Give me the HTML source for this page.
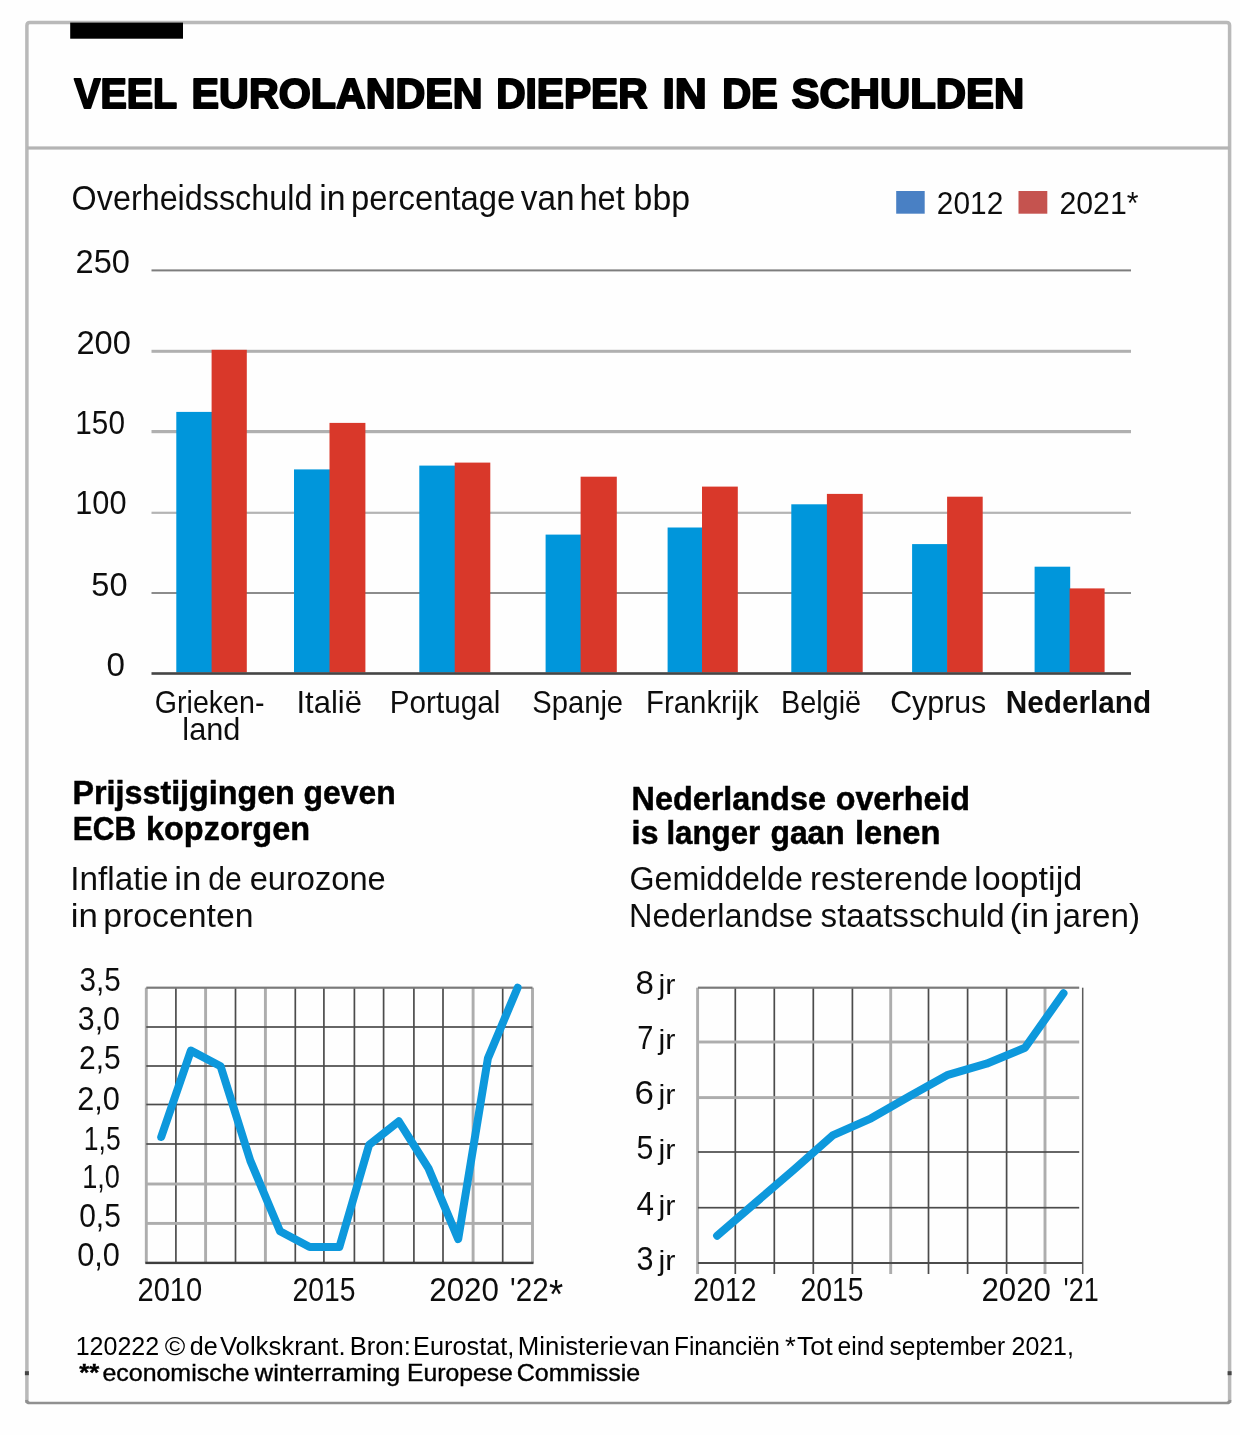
<!DOCTYPE html>
<html lang="nl">
<head>
<meta charset="utf-8">
<title>Veel eurolanden dieper in de schulden</title>
<style>
html,body{margin:0;padding:0;background:#fefefe;}
body{width:1240px;height:1435px;overflow:hidden;}
svg{display:block;}
svg text{font-family:"Liberation Sans",sans-serif;}
</style>
</head>
<body>
<svg width="1240" height="1435" viewBox="0 0 1240 1435">
<defs><filter id="soft" x="0" y="0" width="1240" height="1435" filterUnits="userSpaceOnUse"><feGaussianBlur stdDeviation="0.55"/></filter></defs>
<g filter="url(#soft)">
<rect x="0" y="0" width="1240" height="1435" fill="#fefefe"/>
<path d="M26.9,1403.0 L26.9,25.6 Q26.9,22.6 29.9,22.6 L1226.6,22.6 Q1229.6,22.6 1229.6,25.6 L1229.6,1403.0" fill="none" stroke="#b9b9b9" stroke-width="3.5"/>
<path d="M26.299999999999997,1400.0 Q26.599999999999998,1403.0 29.9,1403.0 L1226.6,1403.0 Q1229.8999999999999,1403.0 1230.1999999999998,1400.0" fill="none" stroke="#909090" stroke-width="2.7"/>
<rect x="26.9" y="146.40" width="1202.7" height="3.2" fill="#b4b4b4"/>
<rect x="24.9" y="1371.2" width="4" height="4" fill="#444"/>
<rect x="1227.6" y="1371.2" width="4" height="4" fill="#444"/>
<rect x="70.2" y="22.6" width="112.8" height="16.1" fill="#000"/>
<text y="107.7" font-size="42.0" font-weight="bold" fill="#000" stroke="#000" stroke-width="2.0" stroke-linejoin="round">
<tspan x="74.20" textLength="102.27" lengthAdjust="spacingAndGlyphs">VEEL</tspan>
<tspan x="191.62" textLength="290.89" lengthAdjust="spacingAndGlyphs">EUROLANDEN</tspan>
<tspan x="496.16" textLength="151.42" lengthAdjust="spacingAndGlyphs">DIEPER</tspan>
<tspan x="662.43" textLength="44.29" lengthAdjust="spacingAndGlyphs">IN</tspan>
<tspan x="722.20" textLength="55.66" lengthAdjust="spacingAndGlyphs">DE</tspan>
<tspan x="791.55" textLength="232.72" lengthAdjust="spacingAndGlyphs">SCHULDEN</tspan>
</text>
<text y="209.5" font-size="34.3" font-weight="normal" fill="#111">
<tspan x="71.58" textLength="240.83" lengthAdjust="spacingAndGlyphs">Overheidsschuld</tspan>
<tspan x="319.29" textLength="26.31" lengthAdjust="spacingAndGlyphs">in</tspan>
<tspan x="351.05" textLength="164.28" lengthAdjust="spacingAndGlyphs">percentage</tspan>
<tspan x="520.80" textLength="53.88" lengthAdjust="spacingAndGlyphs">van</tspan>
<tspan x="579.46" textLength="45.43" lengthAdjust="spacingAndGlyphs">het</tspan>
<tspan x="633.58" textLength="56.49" lengthAdjust="spacingAndGlyphs">bbp</tspan>
</text>
<rect x="896.2" y="191" width="28.5" height="22.7" fill="#4a80c4"/>
<rect x="1018.5" y="191" width="28.8" height="22.7" fill="#c5524f"/>
<text x="936.87" y="213.8" font-size="31.3" font-weight="normal" fill="#111" textLength="66.39" lengthAdjust="spacingAndGlyphs">2012</text>
<text x="1059.45" y="213.8" font-size="31.3" font-weight="normal" fill="#111" textLength="79.07" lengthAdjust="spacingAndGlyphs">2021*</text>
<rect x="151.5" y="269.40" width="979.5" height="2.0" fill="#7d7d7d"/>
<rect x="151.5" y="349.80" width="979.5" height="3.0" fill="#b0b0b0"/>
<rect x="151.5" y="430.00" width="979.5" height="3.2" fill="#b0b0b0"/>
<rect x="151.5" y="511.70" width="979.5" height="2.2" fill="#b4b4b4"/>
<rect x="151.5" y="592.00" width="979.5" height="2.0" fill="#8c8c8c"/>
<text x="75.57" y="273.1" font-size="32.5" font-weight="normal" fill="#111" textLength="54.44" lengthAdjust="spacingAndGlyphs">250</text>
<text x="76.47" y="353.6" font-size="32.5" font-weight="normal" fill="#111" textLength="54.44" lengthAdjust="spacingAndGlyphs">200</text>
<text x="75.34" y="433.7" font-size="32.5" font-weight="normal" fill="#111" textLength="49.60" lengthAdjust="spacingAndGlyphs">150</text>
<text x="75.28" y="514.1" font-size="32.5" font-weight="normal" fill="#111" textLength="51.29" lengthAdjust="spacingAndGlyphs">100</text>
<text x="91.38" y="596.3" font-size="32.5" font-weight="normal" fill="#111" textLength="36.23" lengthAdjust="spacingAndGlyphs">50</text>
<text x="106.56" y="675.9" font-size="32.5" font-weight="normal" fill="#111" textLength="18.46" lengthAdjust="spacingAndGlyphs">0</text>
<rect x="176.3" y="411.9" width="35.9" height="260.6" fill="#0096db"/>
<rect x="211.6" y="349.8" width="35.2" height="322.7" fill="#d9382b"/>
<rect x="294.0" y="469.4" width="36.1" height="203.1" fill="#0096db"/>
<rect x="329.5" y="422.9" width="35.9" height="249.6" fill="#d9382b"/>
<rect x="419.3" y="465.6" width="36.0" height="206.9" fill="#0096db"/>
<rect x="454.7" y="462.6" width="35.6" height="209.9" fill="#d9382b"/>
<rect x="545.6" y="534.6" width="35.6" height="137.9" fill="#0096db"/>
<rect x="580.6" y="476.7" width="36.2" height="195.8" fill="#d9382b"/>
<rect x="667.6" y="527.5" width="35.0" height="145.0" fill="#0096db"/>
<rect x="702.0" y="486.6" width="35.8" height="185.9" fill="#d9382b"/>
<rect x="791.3" y="504.3" width="36.2" height="168.2" fill="#0096db"/>
<rect x="826.9" y="493.9" width="35.8" height="178.6" fill="#d9382b"/>
<rect x="912.1" y="544.1" width="35.6" height="128.4" fill="#0096db"/>
<rect x="947.1" y="496.7" width="35.6" height="175.8" fill="#d9382b"/>
<rect x="1034.6" y="566.7" width="35.6" height="105.8" fill="#0096db"/>
<rect x="1069.6" y="588.4" width="35.0" height="84.1" fill="#d9382b"/>
<rect x="151.5" y="672.20" width="979.5" height="2.6" fill="#444"/>
<text x="154.84" y="713.4" font-size="31.5" font-weight="normal" fill="#111" textLength="109.60" lengthAdjust="spacingAndGlyphs">Grieken-</text>
<text x="182.35" y="739.8" font-size="31.5" font-weight="normal" fill="#111" textLength="58.12" lengthAdjust="spacingAndGlyphs">land</text>
<text x="296.47" y="713.4" font-size="31.5" font-weight="normal" fill="#111" textLength="65.40" lengthAdjust="spacingAndGlyphs">Italië</text>
<text x="389.85" y="713.4" font-size="31.5" font-weight="normal" fill="#111" textLength="110.43" lengthAdjust="spacingAndGlyphs">Portugal</text>
<text x="532.33" y="713.4" font-size="31.5" font-weight="normal" fill="#111" textLength="90.76" lengthAdjust="spacingAndGlyphs">Spanje</text>
<text x="645.97" y="713.4" font-size="31.5" font-weight="normal" fill="#111" textLength="112.72" lengthAdjust="spacingAndGlyphs">Frankrijk</text>
<text x="781.01" y="713.4" font-size="31.5" font-weight="normal" fill="#111" textLength="80.06" lengthAdjust="spacingAndGlyphs">België</text>
<text x="890.15" y="713.4" font-size="31.5" font-weight="normal" fill="#111" textLength="96.13" lengthAdjust="spacingAndGlyphs">Cyprus</text>
<text x="1005.71" y="712.9" font-size="31.5" font-weight="bold" fill="#111" textLength="145.47" lengthAdjust="spacingAndGlyphs">Nederland</text>
<text y="804.1" font-size="34" font-weight="bold" fill="#000" stroke="#000" stroke-width="0.5">
<tspan x="72.53" textLength="222.28" lengthAdjust="spacingAndGlyphs">Prijsstijgingen</tspan>
<tspan x="303.55" textLength="92.03" lengthAdjust="spacingAndGlyphs">geven</tspan>
</text>
<text y="840.4" font-size="34" font-weight="bold" fill="#000" stroke="#000" stroke-width="0.5">
<tspan x="72.67" textLength="63.52" lengthAdjust="spacingAndGlyphs">ECB</tspan>
<tspan x="145.92" textLength="164.20" lengthAdjust="spacingAndGlyphs">kopzorgen</tspan>
</text>
<text y="889.7" font-size="34" font-weight="normal" fill="#111">
<tspan x="70.30" textLength="98.15" lengthAdjust="spacingAndGlyphs">Inflatie</tspan>
<tspan x="174.32" textLength="27.14" lengthAdjust="spacingAndGlyphs">in</tspan>
<tspan x="208.26" textLength="33.35" lengthAdjust="spacingAndGlyphs">de</tspan>
<tspan x="249.68" textLength="136.04" lengthAdjust="spacingAndGlyphs">eurozone</tspan>
</text>
<text y="926.7" font-size="34" font-weight="normal" fill="#111">
<tspan x="70.72" textLength="27.14" lengthAdjust="spacingAndGlyphs">in</tspan>
<tspan x="103.29" textLength="150.31" lengthAdjust="spacingAndGlyphs">procenten</tspan>
</text>
<text y="809.7" font-size="33" font-weight="bold" fill="#000" stroke="#000" stroke-width="0.5">
<tspan x="631.53" textLength="194.43" lengthAdjust="spacingAndGlyphs">Nederlandse</tspan>
<tspan x="835.74" textLength="134.27" lengthAdjust="spacingAndGlyphs">overheid</tspan>
</text>
<text y="844.3" font-size="33" font-weight="bold" fill="#000" stroke="#000" stroke-width="0.5">
<tspan x="631.52" textLength="27.04" lengthAdjust="spacingAndGlyphs">is</tspan>
<tspan x="666.40" textLength="93.80" lengthAdjust="spacingAndGlyphs">langer</tspan>
<tspan x="770.46" textLength="74.23" lengthAdjust="spacingAndGlyphs">gaan</tspan>
<tspan x="855.00" textLength="85.53" lengthAdjust="spacingAndGlyphs">lenen</tspan>
</text>
<text y="890.1" font-size="34" font-weight="normal" fill="#111">
<tspan x="629.49" textLength="173.41" lengthAdjust="spacingAndGlyphs">Gemiddelde</tspan>
<tspan x="810.03" textLength="158.01" lengthAdjust="spacingAndGlyphs">resterende</tspan>
<tspan x="974.07" textLength="108.15" lengthAdjust="spacingAndGlyphs">looptijd</tspan>
</text>
<text y="926.6" font-size="34" font-weight="normal" fill="#111">
<tspan x="628.96" textLength="184.05" lengthAdjust="spacingAndGlyphs">Nederlandse</tspan>
<tspan x="820.58" textLength="184.08" lengthAdjust="spacingAndGlyphs">staatsschuld</tspan>
<tspan x="1009.42" textLength="39.90" lengthAdjust="spacingAndGlyphs">(in</tspan>
<tspan x="1055.04" textLength="84.98" lengthAdjust="spacingAndGlyphs">jaren)</tspan>
</text>
<rect x="144.85" y="987.7" width="2.9" height="275.0" fill="#adadad"/>
<rect x="175.05" y="987.7" width="1.7" height="275.0" fill="#4c4c4c"/>
<rect x="204.15" y="987.7" width="2.9" height="275.0" fill="#adadad"/>
<rect x="234.65" y="987.7" width="1.7" height="275.0" fill="#4c4c4c"/>
<rect x="263.95" y="987.7" width="2.9" height="275.0" fill="#adadad"/>
<rect x="294.45" y="987.7" width="1.7" height="275.0" fill="#4c4c4c"/>
<rect x="323.05" y="987.7" width="1.7" height="275.0" fill="#4c4c4c"/>
<rect x="353.55" y="987.7" width="1.7" height="275.0" fill="#4c4c4c"/>
<rect x="382.75" y="987.7" width="1.7" height="275.0" fill="#4c4c4c"/>
<rect x="413.05" y="987.7" width="1.7" height="275.0" fill="#4c4c4c"/>
<rect x="442.15" y="987.7" width="1.7" height="275.0" fill="#4c4c4c"/>
<rect x="471.65" y="987.7" width="2.9" height="275.0" fill="#adadad"/>
<rect x="501.85" y="987.7" width="1.7" height="275.0" fill="#4c4c4c"/>
<rect x="531.05" y="987.7" width="2.9" height="275.0" fill="#adadad"/>
<rect x="146.3" y="986.60" width="386.2" height="2.2" fill="#7a7a7a"/>
<rect x="146.3" y="1026.15" width="386.2" height="1.7" fill="#4c4c4c"/>
<rect x="146.3" y="1065.15" width="386.2" height="1.7" fill="#4c4c4c"/>
<rect x="146.3" y="1103.65" width="386.2" height="1.7" fill="#4c4c4c"/>
<rect x="146.3" y="1143.15" width="386.2" height="1.7" fill="#4c4c4c"/>
<rect x="146.3" y="1182.55" width="386.2" height="2.9" fill="#adadad"/>
<rect x="146.3" y="1221.95" width="386.2" height="2.9" fill="#adadad"/>
<rect x="145.3" y="1261.70" width="388.2" height="2.4" fill="#3c3c3c"/>
<polyline points="161.2,1137.0 190.9,1050.6 220.6,1066.3 250.3,1160.6 280.0,1231.3 309.7,1247.0 339.4,1247.0 369.1,1144.8 398.8,1121.3 428.5,1168.4 458.2,1239.1 487.9,1058.4 517.6,987.7" fill="none" stroke="#0e98dc" stroke-width="8" stroke-linejoin="round" stroke-linecap="round"/>
<text x="79.57" y="990.8" font-size="32.5" font-weight="normal" fill="#111" textLength="41.23" lengthAdjust="spacingAndGlyphs">3,5</text>
<text x="77.75" y="1029.6" font-size="32.5" font-weight="normal" fill="#111" textLength="42.20" lengthAdjust="spacingAndGlyphs">3,0</text>
<text x="79.09" y="1068.5" font-size="32.5" font-weight="normal" fill="#111" textLength="41.72" lengthAdjust="spacingAndGlyphs">2,5</text>
<text x="77.26" y="1109.8" font-size="32.5" font-weight="normal" fill="#111" textLength="42.70" lengthAdjust="spacingAndGlyphs">2,0</text>
<text x="83.84" y="1149.5" font-size="32.5" font-weight="normal" fill="#111" textLength="36.83" lengthAdjust="spacingAndGlyphs">1,5</text>
<text x="82.21" y="1188.3" font-size="32.5" font-weight="normal" fill="#111" textLength="37.67" lengthAdjust="spacingAndGlyphs">1,0</text>
<text x="79.16" y="1226.7" font-size="32.5" font-weight="normal" fill="#111" textLength="41.65" lengthAdjust="spacingAndGlyphs">0,5</text>
<text x="77.24" y="1266.2" font-size="32.5" font-weight="normal" fill="#111" textLength="42.73" lengthAdjust="spacingAndGlyphs">0,0</text>
<text x="137.43" y="1300.6" font-size="32.5" font-weight="normal" fill="#111" textLength="64.89" lengthAdjust="spacingAndGlyphs">2010</text>
<text x="292.57" y="1300.6" font-size="32.5" font-weight="normal" fill="#111" textLength="62.97" lengthAdjust="spacingAndGlyphs">2015</text>
<text x="429.23" y="1300.6" font-size="32.5" font-weight="normal" fill="#111" textLength="69.75" lengthAdjust="spacingAndGlyphs">2020</text>
<text y="1300.6" font-size="32.5" fill="#111">
<tspan x="510.12" textLength="38.48" lengthAdjust="spacingAndGlyphs">'22</tspan><tspan x="549.03" textLength="14.19" lengthAdjust="spacingAndGlyphs" y="1307.5" font-size="40">*</tspan></text>
<rect x="696.15" y="987.7" width="2.9" height="286.3" fill="#adadad"/>
<rect x="734.45" y="987.7" width="1.7" height="286.3" fill="#4c4c4c"/>
<rect x="773.45" y="987.7" width="1.7" height="286.3" fill="#4c4c4c"/>
<rect x="812.45" y="987.7" width="1.7" height="286.3" fill="#4c4c4c"/>
<rect x="851.55" y="987.7" width="1.7" height="286.3" fill="#4c4c4c"/>
<rect x="889.25" y="987.7" width="2.9" height="286.3" fill="#adadad"/>
<rect x="927.65" y="987.7" width="1.7" height="286.3" fill="#4c4c4c"/>
<rect x="966.75" y="987.7" width="1.7" height="286.3" fill="#4c4c4c"/>
<rect x="1005.75" y="987.7" width="1.7" height="286.3" fill="#4c4c4c"/>
<rect x="1043.55" y="987.7" width="2.9" height="286.3" fill="#adadad"/>
<rect x="1081.95" y="987.7" width="1.5" height="286.3" fill="#5c5c5c"/>
<rect x="697.9" y="986.60" width="381.3" height="2.2" fill="#7a7a7a"/>
<rect x="697.9" y="1040.55" width="381.3" height="2.9" fill="#adadad"/>
<rect x="697.9" y="1096.15" width="381.3" height="2.9" fill="#adadad"/>
<rect x="697.9" y="1151.15" width="381.3" height="1.7" fill="#4c4c4c"/>
<rect x="697.9" y="1206.85" width="381.3" height="1.7" fill="#4c4c4c"/>
<rect x="697.9" y="1262.00" width="384.8" height="2.0" fill="#4c4c4c"/>
<polyline points="717.1,1235.7 755.6,1202.6 794.1,1169.5 832.6,1135.4 871.1,1118.3 909.5,1096.2 948.0,1074.8 986.5,1063.7 1025.0,1047.8 1063.5,993.2" fill="none" stroke="#0e98dc" stroke-width="8" stroke-linejoin="round" stroke-linecap="round"/>
<text x="635.57" y="994.4" font-size="32.5" font-weight="normal" fill="#111" textLength="18.37" lengthAdjust="spacingAndGlyphs">8</text>
<text x="658.51" y="994.4" font-size="28.5" font-weight="normal" fill="#111" textLength="16.99" lengthAdjust="spacingAndGlyphs">jr</text>
<text x="637.34" y="1048.8" font-size="32.5" font-weight="normal" fill="#111" textLength="16.14" lengthAdjust="spacingAndGlyphs">7</text>
<text x="658.51" y="1048.8" font-size="28.5" font-weight="normal" fill="#111" textLength="16.99" lengthAdjust="spacingAndGlyphs">jr</text>
<text x="634.56" y="1103.9" font-size="32.5" font-weight="normal" fill="#111" textLength="19.46" lengthAdjust="spacingAndGlyphs">6</text>
<text x="658.51" y="1103.9" font-size="28.5" font-weight="normal" fill="#111" textLength="16.99" lengthAdjust="spacingAndGlyphs">jr</text>
<text x="636.45" y="1159.2" font-size="32.5" font-weight="normal" fill="#111" textLength="16.88" lengthAdjust="spacingAndGlyphs">5</text>
<text x="658.51" y="1159.2" font-size="28.5" font-weight="normal" fill="#111" textLength="16.99" lengthAdjust="spacingAndGlyphs">jr</text>
<text x="636.61" y="1214.9" font-size="32.5" font-weight="normal" fill="#111" textLength="17.47" lengthAdjust="spacingAndGlyphs">4</text>
<text x="658.51" y="1214.9" font-size="28.5" font-weight="normal" fill="#111" textLength="16.99" lengthAdjust="spacingAndGlyphs">jr</text>
<text x="636.55" y="1270.0" font-size="32.5" font-weight="normal" fill="#111" textLength="16.99" lengthAdjust="spacingAndGlyphs">3</text>
<text x="658.51" y="1270.0" font-size="28.5" font-weight="normal" fill="#111" textLength="16.99" lengthAdjust="spacingAndGlyphs">jr</text>
<text x="693.37" y="1300.6" font-size="32.5" font-weight="normal" fill="#111" textLength="63.08" lengthAdjust="spacingAndGlyphs">2012</text>
<text x="800.57" y="1300.6" font-size="32.5" font-weight="normal" fill="#111" textLength="63.08" lengthAdjust="spacingAndGlyphs">2015</text>
<text x="981.43" y="1300.6" font-size="32.5" font-weight="normal" fill="#111" textLength="69.54" lengthAdjust="spacingAndGlyphs">2020</text>
<text x="1063.54" y="1300.6" font-size="32.5" font-weight="normal" fill="#111" textLength="35.16" lengthAdjust="spacingAndGlyphs">'21</text>
<text y="1354.6" font-size="25" font-weight="normal" fill="#000">
<tspan x="75.72" textLength="83.43" lengthAdjust="spacingAndGlyphs">120222</tspan>
<tspan x="164.78" textLength="20.55" lengthAdjust="spacingAndGlyphs">©</tspan>
<tspan x="189.80" textLength="27.94" lengthAdjust="spacingAndGlyphs">de</tspan>
<tspan x="219.90" textLength="125.66" lengthAdjust="spacingAndGlyphs">Volkskrant.</tspan>
<tspan x="349.75" textLength="61.20" lengthAdjust="spacingAndGlyphs">Bron:</tspan>
<tspan x="413.08" textLength="101.25" lengthAdjust="spacingAndGlyphs">Eurostat,</tspan>
<tspan x="517.84" textLength="110.43" lengthAdjust="spacingAndGlyphs">Ministerie</tspan>
<tspan x="630.00" textLength="39.81" lengthAdjust="spacingAndGlyphs">van</tspan>
<tspan x="674.05" textLength="105.64" lengthAdjust="spacingAndGlyphs">Financiën</tspan>
<tspan x="784.98" textLength="10.81" lengthAdjust="spacingAndGlyphs">*</tspan><tspan x="796.97" textLength="35.61" lengthAdjust="spacingAndGlyphs">Tot</tspan>
<tspan x="837.62" textLength="46.49" lengthAdjust="spacingAndGlyphs">eind</tspan>
<tspan x="889.59" textLength="115.53" lengthAdjust="spacingAndGlyphs">september</tspan>
<tspan x="1011.55" textLength="62.33" lengthAdjust="spacingAndGlyphs">2021,</tspan>
</text>
<text y="1381.0" font-size="24.5" font-weight="normal" fill="#000" stroke="#000" stroke-width="0.4">
<tspan x="79.30" textLength="20.00" lengthAdjust="spacingAndGlyphs" font-weight="bold">**</tspan><tspan x="102.48" textLength="146.84" lengthAdjust="spacingAndGlyphs">economische</tspan>
<tspan x="254.83" textLength="145.43" lengthAdjust="spacingAndGlyphs">winterraming</tspan>
<tspan x="406.98" textLength="105.83" lengthAdjust="spacingAndGlyphs">Europese</tspan>
<tspan x="516.75" textLength="123.47" lengthAdjust="spacingAndGlyphs">Commissie</tspan>
</text>
</g>
</svg>
</body>
</html>
